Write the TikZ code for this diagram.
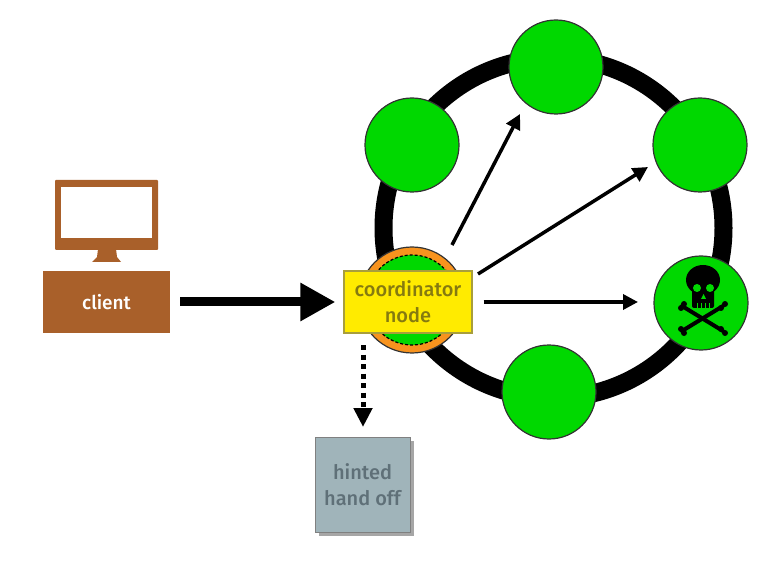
\documentclass[tikz,border=0pt]{standalone}
\usepackage{fontspec}
\setmainfont{Fira Sans Medium}
\usetikzlibrary{arrows.meta,shadows}
\definecolor{clientbrown}{HTML}{A9602A}
\definecolor{nodegreen}{HTML}{00D800}
\definecolor{hintgrey}{HTML}{A0B4BA}
\definecolor{hinttext}{HTML}{5F7078}
\definecolor{coordyellow}{HTML}{FFEB00}
\definecolor{coordtext}{HTML}{857A10}
\definecolor{coordedge}{HTML}{A89E3C}
\definecolor{coordorange}{HTML}{F7931E}
\tikzset{
  replica/.style={circle,draw=black!80,line width=1.2pt,fill=nodegreen,minimum size=94pt,inner sep=0pt},
  flow/.style={-{Triangle[length=15pt,width=15pt]},line width=3.5pt},
  bone/.style={draw=black,line width=4pt,line cap=round},
}
\begin{document}
\begin{tikzpicture}[x=1pt,y=1pt]
\useasboundingbox (0,0) rectangle (779,-561);
% ring
\node (ring) [circle,draw=black,line width=18pt,minimum size=340pt,inner sep=0pt] at (553.5,-228) {};
% replicas
\node (top) [replica] at (556,-67) {};
\node (left) [replica] at (412,-145) {};
\node (right) [replica] at (700,-145) {};
\node (dead) [replica] at (701,-303) {};
\node (bottom) [replica] at (549,-392) {};
% skull and bones
\begin{scope}[shift={(dead)}]
\draw [bone] (-19,-3) -- (22,-28);
\draw [bone] (22,-3) -- (-19,-28);
\fill (-17,-1) circle (3pt) (-20,-5) circle (3pt) (24,-1) circle (3pt) (20,-5) circle (3pt);
\fill (-17,-30) circle (3pt) (-20,-26) circle (3pt) (24,-30) circle (3pt) (20,-26) circle (3pt);
\fill (2,23) ellipse (17pt and 15pt);
\fill [rounded corners=2pt] (-9,14) rectangle (13,-5);
\fill [nodegreen] (-4,15) circle (4pt) (9,15) circle (4pt);
\fill [nodegreen] (2.5,9) -- (0,4) -- (5,4) -- cycle;
\foreach \tx in {-4,0,4,8}
  \draw [nodegreen,line width=.8pt] (\tx,0) -- (\tx,-5);
\end{scope}
% coordinator
\node (outer) [circle,draw=black!80,line width=1.2pt,fill=coordorange,minimum size=106pt,inner sep=0pt] at (412,-300) {};
\node (inner) [circle,draw=black,densely dashed,line width=1.2pt,fill=nodegreen,minimum size=90pt,inner sep=0pt] at (412,-300) {};
\node (coord) [draw=coordedge,line width=1.2pt,fill=coordyellow,text=coordtext,minimum width=128pt,minimum height=62pt,inner sep=0pt,align=center,font=\fontsize{20}{26}\selectfont] at (408,-302) {coordinator\\node};
% client
\node (monitor) [fill=clientbrown,rounded corners=1pt,minimum width=103pt,minimum height=70pt,inner sep=0pt] at (106.5,-215) {};
\node (screen) [fill=white,minimum width=91pt,minimum height=51pt,inner sep=0pt] at (106.5,-212.5) {};
\fill [clientbrown] (98,-249) -- (116,-249) -- (117,-257) -- (121,-262) -- (92,-262) -- (97,-257) -- cycle;
\node (client) [fill=clientbrown,text=white,minimum width=127pt,minimum height=62pt,inner sep=0pt,font=\fontsize{19}{23}\selectfont] at (106.5,-302) {client};
% hinted hand off
\node (hint) [draw=gray,line width=1pt,fill=hintgrey,text=hinttext,minimum width=95pt,minimum height=95pt,inner sep=0pt,align=center,font=\fontsize{20}{26}\selectfont,drop shadow={shadow xshift=4pt,shadow yshift=-4pt,fill=gray,opacity=.7}] at (362.5,-484.5) {hinted\\hand off};
% free ends
\coordinate (starttop) at (452,-245);
\coordinate (endtop) at (520,-114);
\coordinate (startright) at (478,-274);
\coordinate (endright) at (648,-167);
\coordinate (enddead) at (638,-302);
\coordinate (startdown) at (363,-345);
\coordinate (enddown) at (363,-427);
% arrows
\draw [-{Triangle[length=35pt,width=36pt]},line width=9pt,shorten <=10pt,shorten >=8pt] (client) -- (coord);
\draw [flow] (starttop) -- (endtop);
\draw [flow] (startright) -- (endright);
\draw [flow,shorten <=11pt] (coord.east) -- (enddead);
\draw [-{Triangle[length=19pt,width=18pt]},line width=5pt,dash pattern=on 5pt off 4.5pt] (startdown) -- (enddown);
\end{tikzpicture}
\end{document}
